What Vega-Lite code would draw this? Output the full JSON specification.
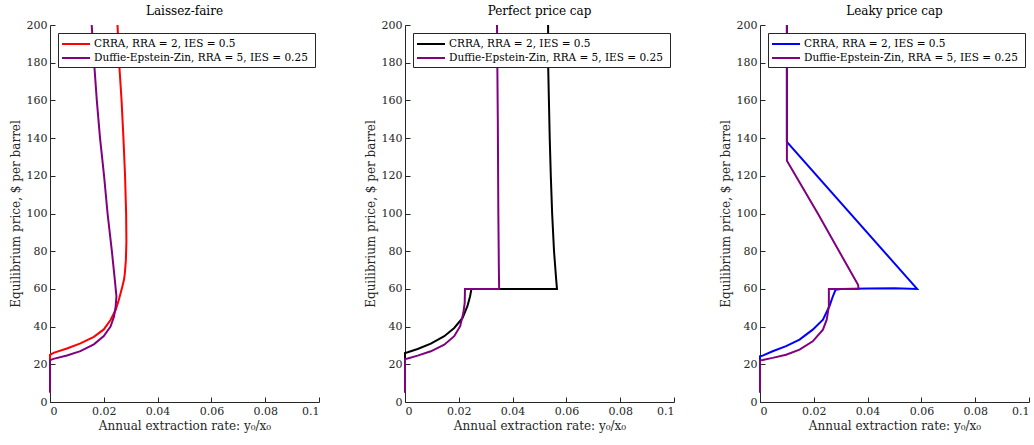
{
  "$schema": "https://vega.github.io/schema/vega-lite/v6.json",
  "background": "white",
  "padding": {"left": 9, "top": 5, "right": 0, "bottom": 3},
  "config": {
    "font": "DejaVu Serif",
    "view": {"stroke": null},
    "concat": {"spacing": 44},
    "axis": {
      "grid": false, "domainColor": "#262626", "tickColor": "#262626",
      "labelColor": "#262626", "titleColor": "#262626", "labelFontSize": 11,
      "titleFontSize": 12, "titleFontWeight": "normal", "tickSize": -5, "labelPadding": 8,
      "labelFont": "DejaVu Serif", "titleFont": "DejaVu Serif"
    },
    "title": {"fontSize": 12, "fontWeight": "normal", "color": "black", "font": "DejaVu Serif", "offset": 1},
    "legend": {
      "orient": "none", "legendX": 8, "legendY": 8, "strokeColor": "#262626",
      "fillColor": "white", "padding": 3, "symbolType": "M-1,0H3", "symbolSize": 196,
      "symbolStrokeWidth": 2, "labelFontSize": 10.5, "labelFont": "DejaVu Serif",
      "labelColor": "black", "rowPadding": 0, "labelLimit": 0, "labelOffset": 17, "title": null
    }
  },
  "data": {"values": [
    {"p":"L","s":"CRRA","i":1,"x":0.0251,"y":200},{"p":"L","s":"CRRA","i":2,"x":0.0257,"y":180},{"p":"L","s":"CRRA","i":3,"x":0.0266,"y":160},{"p":"L","s":"CRRA","i":4,"x":0.0273,"y":140},{"p":"L","s":"CRRA","i":5,"x":0.0279,"y":120},{"p":"L","s":"CRRA","i":6,"x":0.0283,"y":100},{"p":"L","s":"CRRA","i":7,"x":0.0284,"y":85},{"p":"L","s":"CRRA","i":8,"x":0.0282,"y":75},{"p":"L","s":"CRRA","i":9,"x":0.0278,"y":68},{"p":"L","s":"CRRA","i":10,"x":0.0275,"y":64.8},{"p":"L","s":"CRRA","i":11,"x":0.0269,"y":61.3},{"p":"L","s":"CRRA","i":12,"x":0.0256,"y":54.2},{"p":"L","s":"CRRA","i":13,"x":0.0244,"y":48.8},{"p":"L","s":"CRRA","i":14,"x":0.0225,"y":43.5},{"p":"L","s":"CRRA","i":15,"x":0.02,"y":38.5},{"p":"L","s":"CRRA","i":16,"x":0.0163,"y":34.6},{"p":"L","s":"CRRA","i":17,"x":0.0113,"y":31.1},{"p":"L","s":"CRRA","i":18,"x":0.0063,"y":28.4},{"p":"L","s":"CRRA","i":19,"x":0.0013,"y":26.1},{"p":"L","s":"CRRA","i":20,"x":0,"y":25},{"p":"L","s":"CRRA","i":21,"x":0,"y":5},
    {"p":"L","s":"DEZ","i":1,"x":0.0155,"y":200},{"p":"L","s":"DEZ","i":2,"x":0.0164,"y":180},{"p":"L","s":"DEZ","i":3,"x":0.0174,"y":160},{"p":"L","s":"DEZ","i":4,"x":0.0186,"y":140},{"p":"L","s":"DEZ","i":5,"x":0.0201,"y":120},{"p":"L","s":"DEZ","i":6,"x":0.0214,"y":100},{"p":"L","s":"DEZ","i":7,"x":0.023,"y":80},{"p":"L","s":"DEZ","i":8,"x":0.0241,"y":64.8},{"p":"L","s":"DEZ","i":9,"x":0.0247,"y":56},{"p":"L","s":"DEZ","i":10,"x":0.0244,"y":50.6},{"p":"L","s":"DEZ","i":11,"x":0.0238,"y":45.3},{"p":"L","s":"DEZ","i":12,"x":0.0225,"y":40},{"p":"L","s":"DEZ","i":13,"x":0.02,"y":35},{"p":"L","s":"DEZ","i":14,"x":0.0163,"y":30.6},{"p":"L","s":"DEZ","i":15,"x":0.0113,"y":27},{"p":"L","s":"DEZ","i":16,"x":0.0063,"y":24.7},{"p":"L","s":"DEZ","i":17,"x":0.0013,"y":22.9},{"p":"L","s":"DEZ","i":18,"x":0,"y":22.2},{"p":"L","s":"DEZ","i":19,"x":0,"y":5},
    {"p":"P","s":"CRRA","i":1,"x":0.0532,"y":200},{"p":"P","s":"CRRA","i":2,"x":0.0532,"y":180},{"p":"P","s":"CRRA","i":3,"x":0.0535,"y":160},{"p":"P","s":"CRRA","i":4,"x":0.0538,"y":140},{"p":"P","s":"CRRA","i":5,"x":0.0542,"y":120},{"p":"P","s":"CRRA","i":6,"x":0.0547,"y":100},{"p":"P","s":"CRRA","i":7,"x":0.0554,"y":80},{"p":"P","s":"CRRA","i":8,"x":0.0562,"y":65},{"p":"P","s":"CRRA","i":9,"x":0.0565,"y":60},{"p":"P","s":"CRRA","i":10,"x":0.0247,"y":60},{"p":"P","s":"CRRA","i":11,"x":0.0242,"y":56.1},{"p":"P","s":"CRRA","i":12,"x":0.0232,"y":50.8},{"p":"P","s":"CRRA","i":13,"x":0.0214,"y":44.6},{"p":"P","s":"CRRA","i":14,"x":0.0183,"y":39.3},{"p":"P","s":"CRRA","i":15,"x":0.0146,"y":34.9},{"p":"P","s":"CRRA","i":16,"x":0.0096,"y":31},{"p":"P","s":"CRRA","i":17,"x":0.0047,"y":28.1},{"p":"P","s":"CRRA","i":18,"x":0.001,"y":26.4},{"p":"P","s":"CRRA","i":19,"x":0,"y":26},{"p":"P","s":"CRRA","i":20,"x":0,"y":5},
    {"p":"P","s":"DEZ","i":1,"x":0.0342,"y":200},{"p":"P","s":"DEZ","i":2,"x":0.0345,"y":150},{"p":"P","s":"DEZ","i":3,"x":0.0347,"y":100},{"p":"P","s":"DEZ","i":4,"x":0.0349,"y":70},{"p":"P","s":"DEZ","i":5,"x":0.035,"y":60},{"p":"P","s":"DEZ","i":6,"x":0.0223,"y":60},{"p":"P","s":"DEZ","i":7,"x":0.0222,"y":52.6},{"p":"P","s":"DEZ","i":8,"x":0.0217,"y":47.3},{"p":"P","s":"DEZ","i":9,"x":0.0205,"y":40.2},{"p":"P","s":"DEZ","i":10,"x":0.0183,"y":34.9},{"p":"P","s":"DEZ","i":11,"x":0.0146,"y":30.4},{"p":"P","s":"DEZ","i":12,"x":0.0096,"y":26.9},{"p":"P","s":"DEZ","i":13,"x":0.0047,"y":24.6},{"p":"P","s":"DEZ","i":14,"x":0.001,"y":23.1},{"p":"P","s":"DEZ","i":15,"x":0,"y":22.8},{"p":"P","s":"DEZ","i":16,"x":0,"y":5},
    {"p":"K","s":"CRRA","i":1,"x":0.01,"y":200},{"p":"K","s":"CRRA","i":2,"x":0.01,"y":138},{"p":"K","s":"CRRA","i":3,"x":0.0584,"y":60},{"p":"K","s":"CRRA","i":4,"x":0.05,"y":60.3},{"p":"K","s":"CRRA","i":5,"x":0.04,"y":60.2},{"p":"K","s":"CRRA","i":6,"x":0.03,"y":60},{"p":"K","s":"CRRA","i":7,"x":0.0281,"y":59.6},{"p":"K","s":"CRRA","i":8,"x":0.0271,"y":56.1},{"p":"K","s":"CRRA","i":9,"x":0.0258,"y":50.8},{"p":"K","s":"CRRA","i":10,"x":0.0234,"y":43.7},{"p":"K","s":"CRRA","i":11,"x":0.0196,"y":38.4},{"p":"K","s":"CRRA","i":12,"x":0.0147,"y":33.1},{"p":"K","s":"CRRA","i":13,"x":0.0097,"y":29.6},{"p":"K","s":"CRRA","i":14,"x":0.0047,"y":26.9},{"p":"K","s":"CRRA","i":15,"x":0.001,"y":24.6},{"p":"K","s":"CRRA","i":16,"x":0,"y":24.2},{"p":"K","s":"CRRA","i":17,"x":0,"y":5},
    {"p":"K","s":"DEZ","i":1,"x":0.01,"y":200},{"p":"K","s":"DEZ","i":2,"x":0.01,"y":128},{"p":"K","s":"DEZ","i":3,"x":0.0215,"y":100},{"p":"K","s":"DEZ","i":4,"x":0.0365,"y":62},{"p":"K","s":"DEZ","i":5,"x":0.0366,"y":60},{"p":"K","s":"DEZ","i":6,"x":0.0256,"y":60},{"p":"K","s":"DEZ","i":7,"x":0.0256,"y":50.8},{"p":"K","s":"DEZ","i":8,"x":0.0248,"y":43.7},{"p":"K","s":"DEZ","i":9,"x":0.0234,"y":38.4},{"p":"K","s":"DEZ","i":10,"x":0.0196,"y":32.2},{"p":"K","s":"DEZ","i":11,"x":0.0147,"y":27.8},{"p":"K","s":"DEZ","i":12,"x":0.0097,"y":25.1},{"p":"K","s":"DEZ","i":13,"x":0.0047,"y":23.4},{"p":"K","s":"DEZ","i":14,"x":0.001,"y":22.3},{"p":"K","s":"DEZ","i":15,"x":0,"y":22.1},{"p":"K","s":"DEZ","i":16,"x":0,"y":5}
  ]},
  "hconcat": [
    {
      "title": "Laissez-faire", "width": 269, "height": 377,
      "transform": [{"filter": "datum.p == 'L'"}],
      "mark": {"type": "line", "strokeWidth": 2},
      "encoding": {
        "x": {"field": "x", "type": "quantitative", "scale": {"domain": [0, 0.1], "nice": false}, "axis": {"values": [0, 0.02, 0.04, 0.06, 0.08, 0.1], "format": "~g", "title": "Annual extraction rate: y₀/x₀"}},
        "y": {"field": "y", "type": "quantitative", "scale": {"domain": [0, 200], "nice": false}, "axis": {"values": [0, 20, 40, 60, 80, 100, 120, 140, 160, 180, 200], "title": "Equilibrium price, $ per barrel"}},
        "color": {"field": "s", "type": "nominal", "scale": {"domain": ["CRRA", "DEZ"], "range": ["#ff0000", "#800080"]}, "legend": {"labelExpr": "datum.value == 'CRRA' ? 'CRRA, RRA = 2,  IES = 0.5' : 'Duffie-Epstein-Zin, RRA = 5,  IES = 0.25'"}},
        "order": {"field": "i", "type": "quantitative"}
      }
    },
    {
      "title": "Perfect price cap", "width": 269, "height": 377,
      "transform": [{"filter": "datum.p == 'P'"}],
      "mark": {"type": "line", "strokeWidth": 2},
      "encoding": {
        "x": {"field": "x", "type": "quantitative", "scale": {"domain": [0, 0.1], "nice": false}, "axis": {"values": [0, 0.02, 0.04, 0.06, 0.08, 0.1], "format": "~g", "title": "Annual extraction rate: y₀/x₀"}},
        "y": {"field": "y", "type": "quantitative", "scale": {"domain": [0, 200], "nice": false}, "axis": {"values": [0, 20, 40, 60, 80, 100, 120, 140, 160, 180, 200], "title": "Equilibrium price, $ per barrel"}},
        "color": {"field": "s", "type": "nominal", "scale": {"domain": ["CRRA", "DEZ"], "range": ["#000000", "#800080"]}, "legend": {"labelExpr": "datum.value == 'CRRA' ? 'CRRA, RRA = 2,  IES = 0.5' : 'Duffie-Epstein-Zin, RRA = 5,  IES = 0.25'"}},
        "order": {"field": "i", "type": "quantitative"}
      }
    },
    {
      "title": "Leaky price cap", "width": 269, "height": 377,
      "transform": [{"filter": "datum.p == 'K'"}],
      "mark": {"type": "line", "strokeWidth": 2},
      "encoding": {
        "x": {"field": "x", "type": "quantitative", "scale": {"domain": [0, 0.1], "nice": false}, "axis": {"values": [0, 0.02, 0.04, 0.06, 0.08, 0.1], "format": "~g", "title": "Annual extraction rate: y₀/x₀"}},
        "y": {"field": "y", "type": "quantitative", "scale": {"domain": [0, 200], "nice": false}, "axis": {"values": [0, 20, 40, 60, 80, 100, 120, 140, 160, 180, 200], "title": "Equilibrium price, $ per barrel"}},
        "color": {"field": "s", "type": "nominal", "scale": {"domain": ["CRRA", "DEZ"], "range": ["#0000ff", "#800080"]}, "legend": {"labelExpr": "datum.value == 'CRRA' ? 'CRRA, RRA = 2,  IES = 0.5' : 'Duffie-Epstein-Zin, RRA = 5,  IES = 0.25'"}},
        "order": {"field": "i", "type": "quantitative"}
      }
    }
  ],
  "resolve": {"scale": {"color": "independent"}}
}
